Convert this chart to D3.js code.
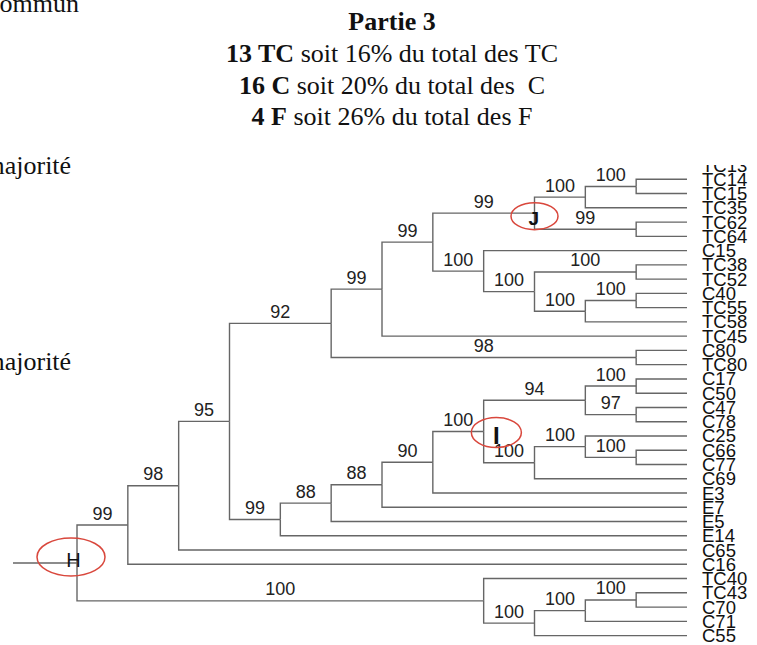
<!DOCTYPE html>
<html>
<head>
<meta charset="utf-8">
<script src="https://cdn.jsdelivr.net/npm/d3@7"></script>
<style>
  body { margin: 0; background: #fff; }
  svg { display: block; }
  .title, .note { font-family: 'Liberation Serif', 'Times New Roman', serif; font-size: 26px; fill: #111; white-space: pre; }
  .branch { fill: none; stroke: #666; stroke-width: 1.4; }
  .support { font-family: 'Liberation Sans', Arial, sans-serif; font-size: 18px; fill: #222; text-anchor: middle; }
  .leaf { font-family: 'Liberation Sans', Arial, sans-serif; font-size: 18.5px; fill: #111; }
  .ring { fill: none; stroke: #d9473c; stroke-width: 1.5; }
  .mark { font-family: 'Liberation Sans', Arial, sans-serif; fill: #111; text-anchor: middle; }
</style>
</head>
<body>
<div id="chart"></div>
<script>
'use strict';

// tree of part 3, bootstrap values written as internal node labels
const newick = '((((((((((TC14,TC15)100,TC35)100,(TC62,TC64)99)99,(C15,((TC38,TC52)100,((C40,TC55)100,TC58)100)100)100)99,TC45)99,(C80,TC80)98)92,' +
  '(((((((C17,C50)100,(C47,C78)97)94,((C25,(C66,C77)100)100,C69)100)100,E3)90,E7)88,E5)88,E14)99)95,C65)98,C16)99,' +
  '(TC40,(((TC43,C70)100,C71)100,C55)100)100);';

const titleLines = [
  [['Partie 3', true]],
  [['13 TC', true], [' soit 16% du total des TC', false]],
  [['16 C', true], [' soit 20% du total des  C', false]],
  [['4 F', true], [' soit 26% du total des F', false]]
];

const sideNotes = ['commun', 'majorité', 'majorité'];

// circled nodes, given by the first and last leaf of the clade
const circled = [
  { mark: 'H', from: 'TC14', to: 'C55' },
  { mark: 'J', from: 'TC14', to: 'TC64' },
  { mark: 'I', from: 'C17', to: 'C69' }
];

const cutLabel = 'TC13';

const width = 757, height = 645;
const margin = { left: 77, right: 70, top: 179.3, bottom: 9.4 };

const markStyle = {
  H: { dx: -6, dy: -6, rx: 34, ry: 19, tx: -3.5, ty: 4, size: 20, weight: 'normal' },
  J: { dx: 0, dy: 3, rx: 23.5, ry: 13.5, tx: -0.6, ty: 12.3, size: 19, weight: 'bold' },
  I: { dx: 12.7, dy: 1, rx: 25, ry: 15, tx: 12.7, ty: 12.7, size: 24, weight: 'bold' }
};

function parseNewick(s) {
  let i = 0;
  function node() {
    let n = {};
    if (s[i] === '(') {
      n.children = [];
      i++;
      n.children.push(node());
      while (s[i] === ',') { i++; n.children.push(node()); }
      i++;
    }
    let start = i;
    while (i < s.length && ',);'.indexOf(s[i]) < 0) i++;
    n.name = s.slice(start, i);
    return n;
  }
  return node();
}

let svg = d3.select('#chart').append('svg')
  .attr('width', width).attr('height', height);

// titles
let title = svg.append('g');
titleLines.forEach((parts, k) => {
  let t = title.append('text').attr('class', 'title')
    .attr('x', 392).attr('y', [30, 62, 94, 125][k])
    .attr('text-anchor', 'middle');
  parts.forEach(p => {
    t.append('tspan').style('font-weight', p[1] ? 'bold' : 'normal').text(p[0]);
  });
});

svg.append('text').attr('class', 'note').attr('x', -12).attr('y', 12).text(sideNotes[0]);
svg.append('text').attr('class', 'note').attr('x', -15.5).attr('y', 174).text(sideNotes[1]);
svg.append('text').attr('class', 'note').attr('x', -15.5).attr('y', 370).text(sideNotes[2]);

// layout
let root = d3.hierarchy(parseNewick(newick));
d3.cluster().size([1, 1]).separation(() => 1)(root);

let leaves = root.leaves();
let yScale = d3.scaleLinear()
  .domain(d3.extent(leaves, d => d.x))
  .range([margin.top, height - margin.bottom]);
let xScale = d3.scaleLinear()
  .domain([0, d3.max(root.descendants(), d => d.y)])
  .range([margin.left, width - margin.right]);

let tree = svg.append('g');

tree.append('path').attr('class', 'branch')
  .attr('d', `M13,${yScale(root.x)}H${xScale(root.y)}`);

tree.selectAll('.link').data(root.links()).enter()
  .append('path').attr('class', 'branch link')
  .attr('d', l => `M${xScale(l.source.y)},${yScale(l.source.x)}V${yScale(l.target.x)}H${xScale(l.target.y)}`);

tree.selectAll('.support').data(root.descendants().filter(d => d.parent && d.children && d.data.name)).enter()
  .append('text').attr('class', 'support')
  .attr('x', d => (xScale(d.parent.y) + xScale(d.y)) / 2)
  .attr('y', d => yScale(d.x) - 5.5)
  .text(d => d.data.name);

tree.selectAll('.leaf').data(leaves).enter()
  .append('text').attr('class', 'leaf')
  .attr('x', 702).attr('y', d => yScale(d.x) + 6.5)
  .text(d => d.data.name);

// label of the next leaf above, mostly cut off in the source
svg.append('clipPath').attr('id', 'cut')
  .append('rect').attr('x', 0).attr('y', 165).attr('width', width).attr('height', 20);
let step = yScale(leaves[1].x) - yScale(leaves[0].x);
tree.append('text').attr('class', 'leaf').attr('clip-path', 'url(#cut)')
  .attr('x', 702).attr('y', yScale(leaves[0].x) - step + 6.5)
  .text(cutLabel);

// circled nodes
circled.forEach(c => {
  let a = leaves.find(d => d.data.name === c.from);
  let b = leaves.find(d => d.data.name === c.to);
  let node = a.path(b).reduce((m, d) => (d.depth < m.depth ? d : m));
  let s = markStyle[c.mark];
  let nx = xScale(node.y), ny = yScale(node.x);
  svg.append('ellipse').attr('class', 'ring')
    .attr('cx', nx + s.dx).attr('cy', ny + s.dy)
    .attr('rx', s.rx).attr('ry', s.ry);
  svg.append('text').attr('class', 'mark')
    .attr('x', nx + s.tx).attr('y', ny + s.ty)
    .style('font-size', s.size + 'px').style('font-weight', s.weight)
    .text(c.mark);
});
</script>
</body>
</html>
